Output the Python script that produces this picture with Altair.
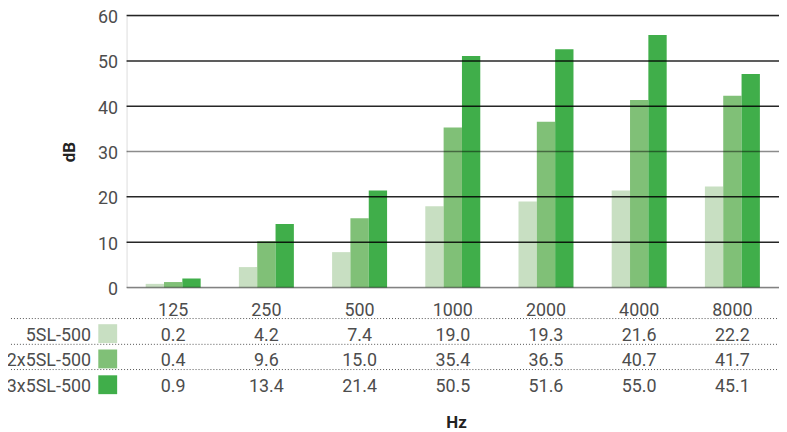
import altair as alt
import pandas as pd

freqs = ["125", "250", "500", "1000", "2000", "4000", "8000"]
series = ["5SL-500", "2x5SL-500", "3x5SL-500"]
colors = ["#c8dfc2", "#80c077", "#40ae4a"]

# bar heights as drawn
bar_5sl = [0.8, 4.5, 7.8, 17.9, 19.0, 21.4, 22.3]
bar_2x = [1.2, 10.2, 15.3, 35.3, 36.6, 41.4, 42.3]
bar_3x = [2.0, 14.0, 21.4, 51.1, 52.6, 55.7, 47.1]

# table values as printed
tab_5sl = ["0.2", "4.2", "7.4", "19.0", "19.3", "21.6", "22.2"]
tab_2x = ["0.4", "9.6", "15.0", "35.4", "36.5", "40.7", "41.7"]
tab_3x = ["0.9", "13.4", "21.4", "50.5", "51.6", "55.0", "45.1"]

y_ticks = [0, 10, 20, 30, 40, 50, 60]

W, H = 657.5, 274
FONT = "Roboto"
TXT = "#4d4d4d"

bars_df = pd.DataFrame(
    [{"freq": f, "series": s, "value": v}
     for s, vals in zip(series, [bar_5sl, bar_2x, bar_3x])
     for f, v in zip(freqs, vals)]
)

x_enc = alt.X(
    "freq:N", sort=freqs,
    scale=alt.Scale(paddingInner=0.41, paddingOuter=0.205),
    axis=alt.Axis(
        labelAngle=0, domain=False, ticks=False, labelPadding=14,
        labelFontSize=18, labelColor=TXT, labelFont=FONT,
        title="Hz", titleFont=FONT, titleFontSize=17, titleFontWeight="bold",
        titleColor="#222222", titleX=332, titleY=141, titleBaseline="alphabetic",
        titleAlign="center",
    ),
)
color_enc = alt.Color("series:N", sort=series,
                      scale=alt.Scale(domain=series, range=colors), legend=None)

bars = alt.Chart(bars_df).mark_bar().encode(
    x=x_enc,
    xOffset=alt.XOffset("series:N", sort=series,
                        scale=alt.Scale(paddingInner=0, paddingOuter=0)),
    y=alt.Y("value:Q", scale=alt.Scale(domain=[0, 60], nice=False),
            axis=alt.Axis(values=y_ticks, grid=False, domain=False, ticks=False,
                          labelPadding=9, labelFontSize=18, labelColor=TXT,
                          labelOffset=2, labelFont=FONT, title="dB", titleFont=FONT,
                          titleFontSize=17, titleFontWeight="bold",
                          titleColor="#222222", titleAngle=270, titleX=-52,
                          titleY=137, titleBaseline="alphabetic",
                          titleAlign="center")),
    color=color_enc,
)

grid_df = pd.DataFrame({"value": y_ticks})
grid = alt.Chart(grid_df).mark_rule(color="black", strokeWidth=1.5).encode(
    y=alt.Y("value:Q"),
    opacity=alt.condition(
        (alt.datum.value == 0) | (alt.datum.value == 30),
        alt.value(0.45), alt.value(0.85)),
)

layers = [bars, grid]

row_text_y = [323, 348.5, 374.5]
row_swatch_y = [320.5, 346, 372]
row_line_y = [305.3, 331.3, 356.7]
for i, (s, tab) in enumerate(zip(series, [tab_5sl, tab_2x, tab_3x])):
    tdf = pd.DataFrame({"freq": freqs, "label": tab})
    layers.append(
        alt.Chart(tdf).mark_text(fontSize=18, font=FONT, color=TXT,
                                 baseline="middle", align="center").encode(
            x=x_enc, y=alt.value(row_text_y[i]), text="label:N")
    )
    sdf = pd.DataFrame({"series": [s]})
    layers.append(
        alt.Chart(sdf).mark_text(fontSize=18, font=FONT, color=TXT,
                                 baseline="middle", align="right").encode(
            x=alt.value(-35.8), y=alt.value(row_text_y[i]), text="series:N")
    )
    layers.append(
        alt.Chart(sdf).mark_rect().encode(
            x=alt.value(-28.5), x2=alt.value(-9.5),
            y=alt.value(row_swatch_y[i] - 9.5), y2=alt.value(row_swatch_y[i] + 9.5),
            color=color_enc)
    )
    layers.append(
        alt.Chart(sdf).mark_rule(color="#555555", strokeWidth=1,
                                 strokeDash=[1, 2]).encode(
            x=alt.value(-116.5), x2=alt.value(W + 2), y=alt.value(row_line_y[i]))
    )

chart = alt.layer(*layers).properties(
    width=W, height=H,
    autosize=alt.AutoSizeParams(type="none"),
    padding={"left": 119.5, "top": 6, "right": 0, "bottom": 146},
).configure_view(stroke=None).configure(font=FONT)

chart.save("out.html", embed_options={"renderer": "svg", "actions": False})
